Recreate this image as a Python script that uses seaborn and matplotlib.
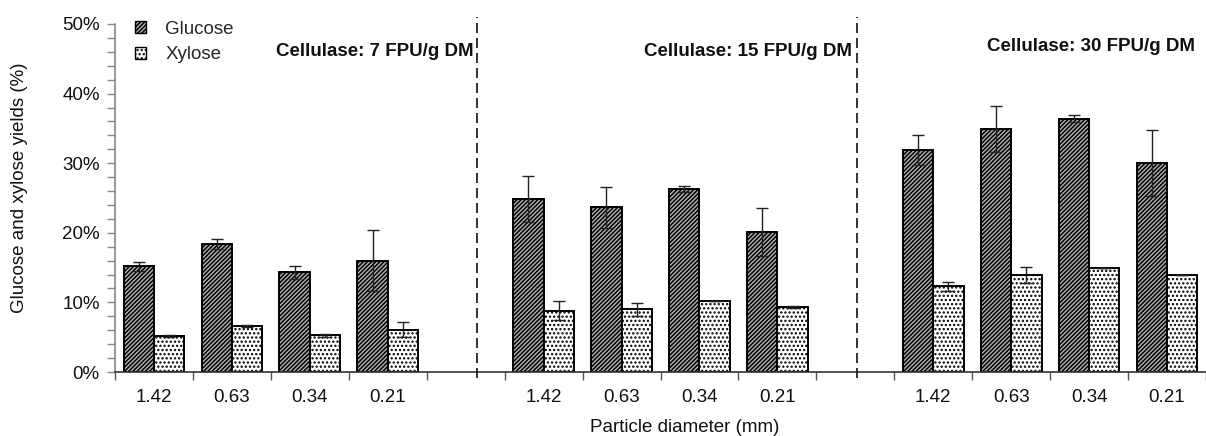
import matplotlib
matplotlib.use("Agg")
import matplotlib.pyplot as plt
import matplotlib.ticker as mticker
from matplotlib.patches import Patch
import numpy as np
import pandas as pd
import seaborn as sns

# ---------------- data ----------------
diameters = ["1.42", "0.63", "0.34", "0.21"]
doses = ["7", "15", "30"]
group_titles = ["Cellulase: 7 FPU/g DM", "Cellulase: 15 FPU/g DM", "Cellulase: 30 FPU/g DM"]

glucose = {
    "7":  [15.2, 18.4, 14.3, 16.0],
    "15": [24.9, 23.7, 26.3, 20.1],
    "30": [31.9, 34.9, 36.4, 30.0],
}
glucose_err = {
    "7":  [0.65, 0.75, 1.0, 4.4],
    "15": [3.3, 2.95, 0.4, 3.45],
    "30": [2.15, 3.25, 0.5, 4.7],
}
xylose = {
    "7":  [5.2, 6.6, 5.3, 6.1],
    "15": [8.8, 9.0, 10.2, 9.35],
    "30": [12.3, 14.0, 14.95, 14.0],
}
xylose_err = {
    "7":  [0.1, 0.2, 0.2, 1.05],
    "15": [1.35, 0.9, 0.0, 0.1],
    "30": [0.7, 1.15, 0.0, 0.0],
}

# ---------------- frame ----------------
rows = []
order = []
labels = []
for gi, d in enumerate(doses):
    for k, dia in enumerate(diameters):
        key = f"{d}|{dia}"
        order.append(key)
        labels.append(dia)
        rows.append(dict(key=key, sugar="Glucose", y=glucose[d][k] / 100, err=glucose_err[d][k] / 100))
        rows.append(dict(key=key, sugar="Xylose", y=xylose[d][k] / 100, err=xylose_err[d][k] / 100))
    if gi < len(doses) - 1:
        order.append(f"gap{gi}")
        labels.append("")
df = pd.DataFrame(rows)

sns.set_theme(style="white")
plt.rcParams["font.family"] = ["Liberation Sans", "DejaVu Sans"]
plt.rcParams["hatch.linewidth"] = 1.1
plt.rcParams["hatch.color"] = "black"

FS = 13.5
fig = plt.figure(figsize=(12.06, 4.36), dpi=100)
ax = fig.add_axes([115 / 1206, 64 / 436, 1091 / 1206, 348 / 436])

W = 0.78
sns.barplot(data=df, x="key", y="y", hue="sugar", order=order,
            hue_order=["Glucose", "Xylose"], width=W, dodge=True,
            palette={"Glucose": "#b4b4b4", "Xylose": "white"},
            edgecolor="black", linewidth=1.4, errorbar=None, legend=False, ax=ax)

hatches = {"Glucose": "////////", "Xylose": "...."}
for cont, s in zip(ax.containers, ["Glucose", "Xylose"]):
    for p in cont.patches:
        p.set_hatch(hatches[s])
        p.set_edgecolor("black")

# error bars
for s, off in (("Glucose", -W / 4), ("Xylose", W / 4)):
    sub = df[df.sugar == s]
    xs = [order.index(k) + off for k in sub.key]
    ax.errorbar(xs, sub.y, yerr=sub.err, fmt="none", ecolor="#222222",
                elinewidth=1.0, capsize=4, capthick=1.0, zorder=5)

# axes formatting
n = len(order)
ax.set_xlim(-0.5, 13.40)
ax.set_ylim(0, 0.5)
ax.yaxis.set_major_locator(mticker.MultipleLocator(0.1))
ax.yaxis.set_minor_locator(mticker.MultipleLocator(0.02))
ax.yaxis.set_major_formatter(mticker.PercentFormatter(1.0, decimals=0))

ax.set_xticks(np.arange(n + 1) - 0.5)
ax.set_xticklabels([])
ax.set_xticks(np.arange(n), minor=True)
ax.set_xticklabels(labels, minor=True)
ax.tick_params(axis="x", which="major", direction="out", length=6, width=1, color="#555555", bottom=True)
ax.tick_params(axis="x", which="minor", length=0, pad=12, labelsize=FS, labelcolor="#111111")
ax.tick_params(axis="y", which="both", direction="out", length=6, width=1, color="#888888", left=True,
               labelsize=FS, labelcolor="#111111", pad=5)
for sp in ("top", "right"):
    ax.spines[sp].set_visible(False)
ax.spines["left"].set_color("#888888")
ax.spines["left"].set_linewidth(1.2)
ax.spines["bottom"].set_color("#333333")
ax.spines["bottom"].set_linewidth(1.2)

ax.set_xlabel("Particle diameter (mm)", fontsize=FS, color="#111111")
ax.xaxis.set_label_coords(0.522, -0.135)
ax.set_ylabel("Glucose and xylose yields (%)", fontsize=FS, color="#111111")
ax.yaxis.set_label_coords(-0.080, 0.53)

# separators and group titles
for xv in (4.15, 9.02):
    ax.plot([xv, xv], [-0.008, 0.51], color="#111111", lw=1.2, ls=(0, (6, 3)),
            clip_on=False, zorder=6)
title_pos = [(4.10, 0.46), (8.96, 0.46), (13.36, 0.467)]
for t, (tx, ty) in zip(group_titles, title_pos):
    ax.text(tx, ty, t, ha="right", va="center", fontsize=FS, fontweight="bold", color="#111111")

# legend
handles = [Patch(facecolor="#b4b4b4", edgecolor="black", hatch="////////", label="Glucose"),
           Patch(facecolor="white", edgecolor="black", hatch="....", label="Xylose")]
ax.legend(handles=handles, loc="upper left", bbox_to_anchor=(0.003, 1.057), frameon=False,
          handlelength=0.6, handleheight=0.6, handletextpad=1.0, labelspacing=0.45, fontsize=FS)

fig.savefig("out.png", dpi=100)
